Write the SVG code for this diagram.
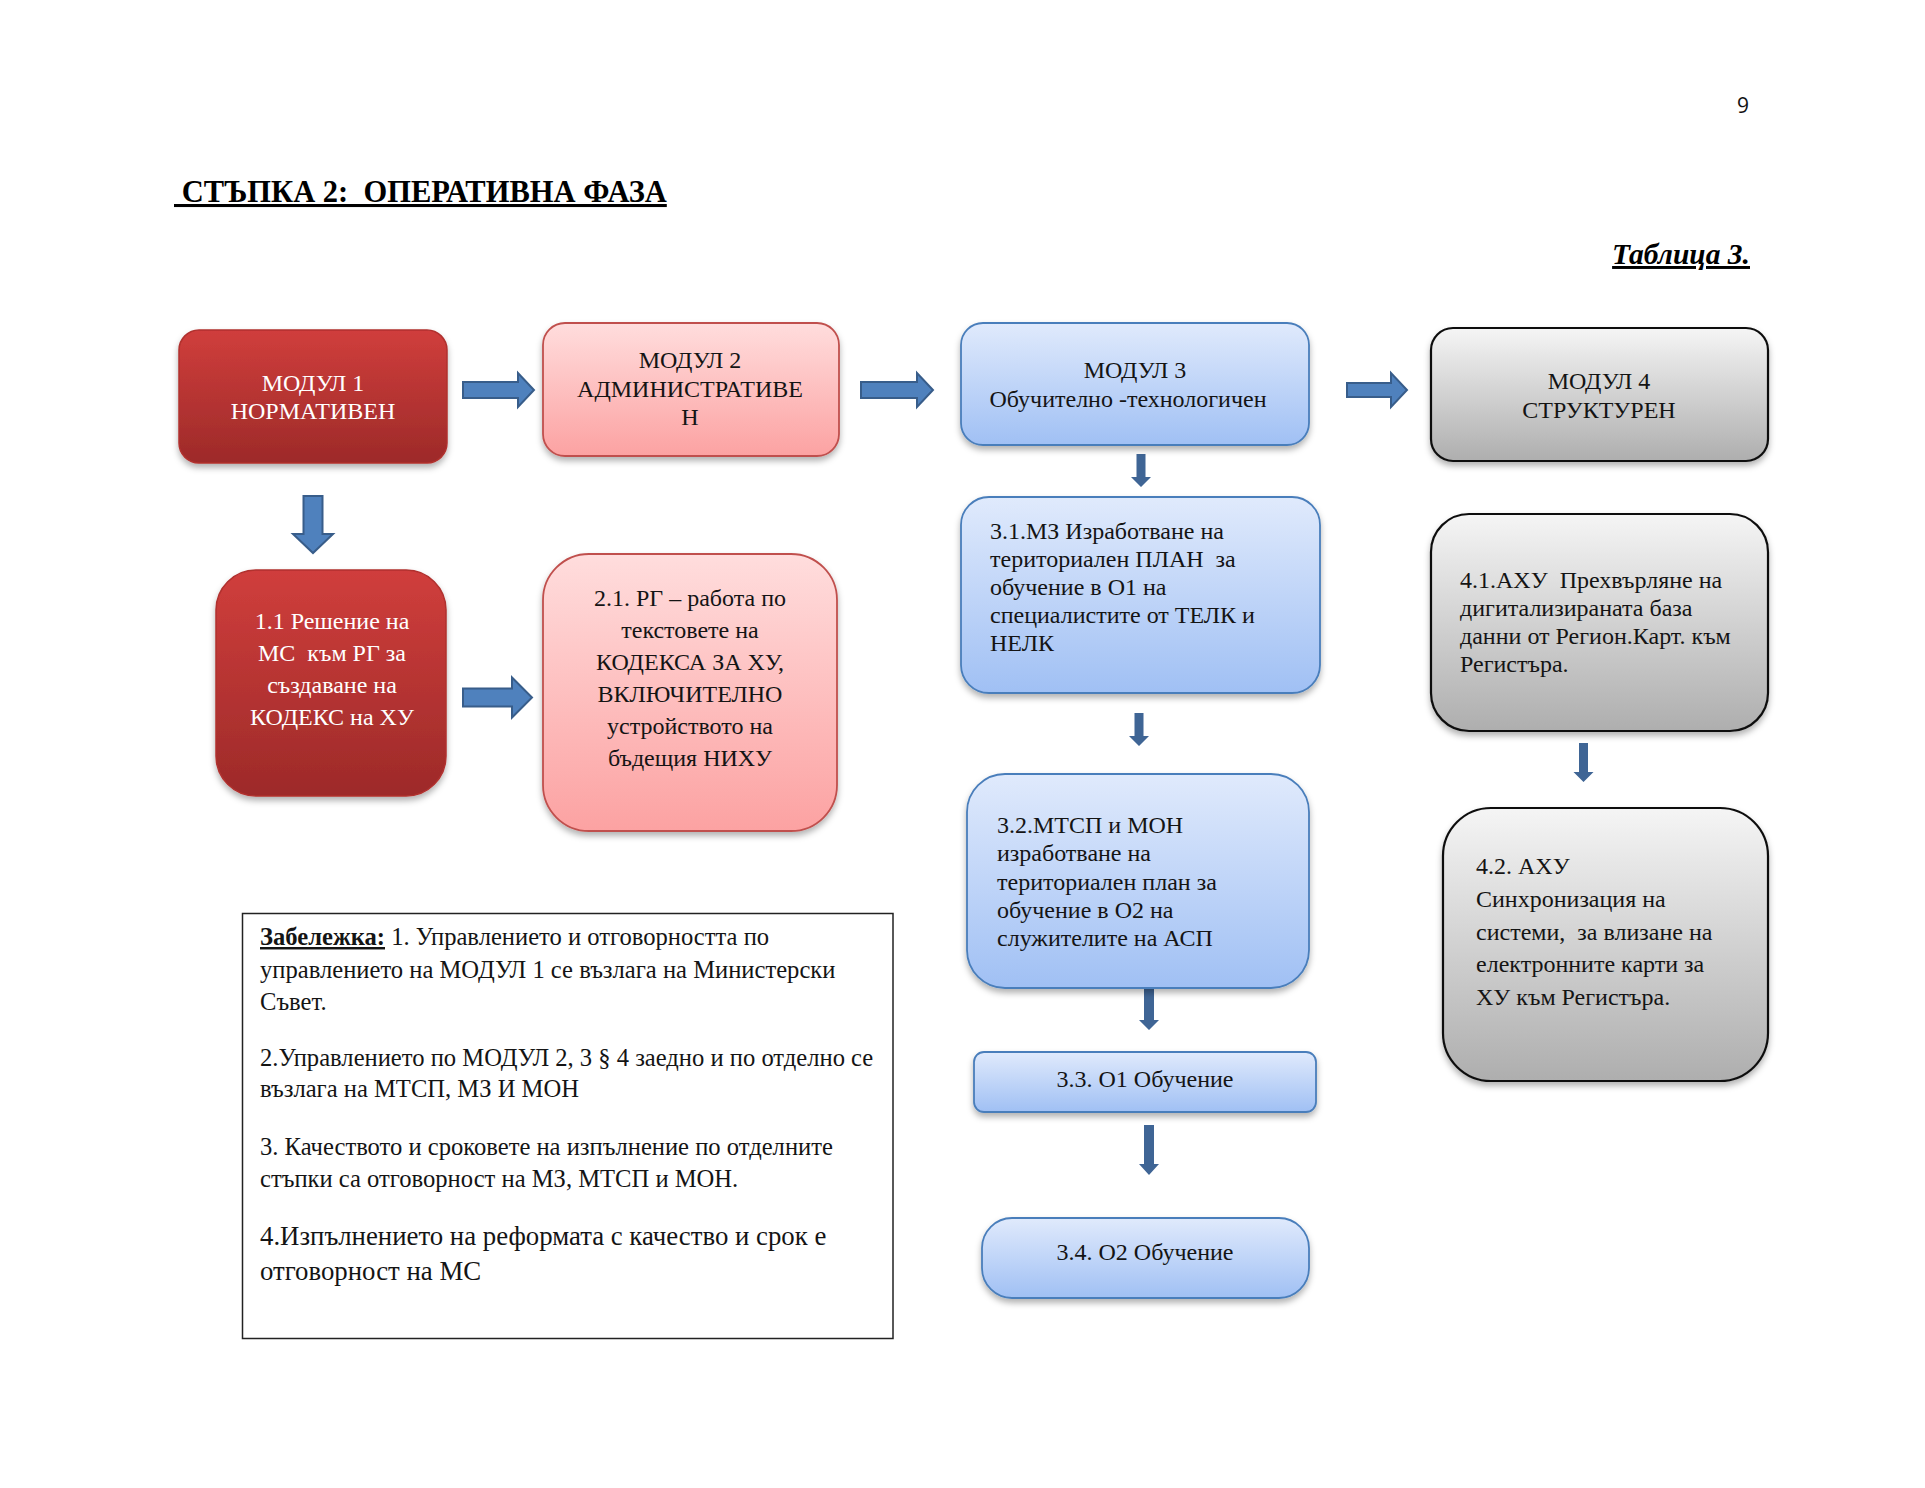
<svg xmlns="http://www.w3.org/2000/svg" width="1925" height="1488" viewBox="0 0 1925 1488">
<defs>
<linearGradient id="gRed" x1="0" y1="0" x2="0" y2="1"><stop offset="0" stop-color="#D03E3C"/><stop offset="1" stop-color="#9D2A29"/></linearGradient>
<linearGradient id="gPink" x1="0" y1="0" x2="0" y2="1"><stop offset="0" stop-color="#FFDDDD"/><stop offset="1" stop-color="#FCA2A2"/></linearGradient>
<linearGradient id="gBlue" x1="0" y1="0" x2="0" y2="1"><stop offset="0" stop-color="#E0EAFC"/><stop offset="1" stop-color="#A0C0F4"/></linearGradient>
<linearGradient id="gGrey" x1="0" y1="0" x2="0" y2="1"><stop offset="0" stop-color="#F5F5F5"/><stop offset="1" stop-color="#AEAEAE"/></linearGradient>
<filter id="sh" x="-10%" y="-10%" width="120%" height="130%"><feDropShadow dx="0" dy="4" stdDeviation="3" flood-color="#000" flood-opacity="0.3"/></filter>
</defs>
<style>
text{white-space:pre}
.t{font-family:"Liberation Serif","Times New Roman",serif;font-size:24px;fill:#141414}
.w{fill:#FFFFFF}
.c{text-anchor:middle}
.nt{font-size:24.6px}
.nb{font-size:26.8px}
.red{fill:url(#gRed);stroke:#B0302E;stroke-width:1.5;filter:url(#sh)}
.pink{fill:url(#gPink);stroke:#C0504D;stroke-width:1.8;filter:url(#sh)}
.blue{fill:url(#gBlue);stroke:#4A7EBB;stroke-width:1.8;filter:url(#sh)}
.grey{fill:url(#gGrey);stroke:#111;stroke-width:2.2;filter:url(#sh)}
.arr{fill:#4F81BD;stroke:#385D8A;stroke-width:2}
.sarr{fill:#3F6595}
</style>
<rect x="0" y="0" width="1925" height="1488" fill="#FFFFFF"/>
<text x="1743" y="113" text-anchor="middle" style="font-family:'Open Sans',Lato,sans-serif;font-size:21px;fill:#111">9</text>
<text x="174" y="202" style="font-family:'Liberation Serif','Times New Roman',serif;font-size:30.5px;font-weight:bold;text-decoration:underline;fill:#000"> СТЪПКА 2:  ОПЕРАТИВНА ФАЗА</text>
<text x="1750" y="264" text-anchor="end" style="font-family:'Liberation Serif','Times New Roman',serif;font-size:29.5px;font-weight:bold;font-style:italic;text-decoration:underline;fill:#000">Таблица 3.</text>

<g id="connectors">
<path class="arr" d="M463,382 L518,382 L518,373 L534,390 L518,407 L518,398 L463,398 Z"/>
<path class="arr" d="M861,382 L917,382 L917,373 L933,390 L917,407 L917,398 L861,398 Z"/>
<path class="arr" d="M1347,383 L1391,383 L1391,373 L1407,390 L1391,407 L1391,397 L1347,397 Z"/>
<path class="arr" d="M463,688.5 L512,688.5 L512,677.5 L532,697.5 L512,717.5 L512,706.5 L463,706.5 Z"/>
<path class="arr" d="M303.5,496 L322.5,496 L322.5,534 L333,534 L313,553 L293,534 L303.5,534 Z"/>
<path class="sarr" d="M1136.5,454 L1145.5,454 L1145.5,477 L1151,477 L1141,487 L1131,477 L1136.5,477 Z"/>
<path class="sarr" d="M1134.5,713 L1143.5,713 L1143.5,736 L1149,736 L1139,746 L1129,736 L1134.5,736 Z"/>
<path class="sarr" d="M1144,987 L1154,987 L1154,1020 L1159,1020 L1149,1030 L1139,1020 L1144,1020 Z"/>
<path class="sarr" d="M1144,1125 L1154,1125 L1154,1164 L1159,1164 L1149,1175 L1139,1164 L1144,1164 Z"/>
<path class="sarr" d="M1579,743 L1588,743 L1588,772 L1593.5,772 L1583.5,782 L1573.5,772 L1579,772 Z"/>
</g>

<g id="m1">
<rect class="red" x="179" y="330" width="268" height="133" rx="20"/>
<text class="t w c" x="313" y="391">МОДУЛ 1</text>
<text class="t w c" x="313" y="419">НОРМАТИВЕН</text>
</g>
<g id="m2">
<rect class="pink" x="543" y="323" width="296" height="133" rx="22"/>
<text class="t c" x="690" y="368">МОДУЛ 2</text>
<text class="t c" x="690" y="397">АДМИНИСТРАТИВЕ</text>
<text class="t c" x="690" y="425">Н</text>
</g>
<g id="m3">
<rect class="blue" x="961" y="323" width="348" height="122" rx="22"/>
<text class="t c" x="1135" y="378">МОДУЛ 3</text>
<text class="t c" x="1128" y="407">Обучително -технологичен</text>
</g>
<g id="m4">
<rect class="grey" x="1431" y="328" width="337" height="133" rx="22"/>
<text class="t c" x="1599" y="389">МОДУЛ 4</text>
<text class="t c" x="1599" y="418">СТРУКТУРЕН</text>
</g>
<g id="n11">
<rect class="red" x="216" y="570" width="230" height="226" rx="40"/>
<text class="t w c" x="332" y="629">1.1 Решение на</text>
<text class="t w c" x="332" y="661">МС  към РГ за</text>
<text class="t w c" x="332" y="693">създаване на</text>
<text class="t w c" x="332" y="725">КОДЕКС на ХУ</text>
</g>
<g id="n21">
<rect class="pink" x="543" y="554" width="294" height="277" rx="46"/>
<text class="t c" x="690" y="606">2.1. РГ – работа по</text>
<text class="t c" x="690" y="638">текстовете на</text>
<text class="t c" x="690" y="670">КОДЕКСА ЗА ХУ,</text>
<text class="t c" x="690" y="702">ВКЛЮЧИТЕЛНО</text>
<text class="t c" x="690" y="734">устройството на</text>
<text class="t c" x="690" y="766">бъдещия НИХУ</text>
</g>
<g id="n31">
<rect class="blue" x="961" y="497" width="359" height="196" rx="28"/>
<text class="t" x="990" y="539">3.1.МЗ Изработване на</text>
<text class="t" x="990" y="567">териториален ПЛАН  за</text>
<text class="t" x="990" y="595">обучение в О1 на</text>
<text class="t" x="990" y="623">специалистите от ТЕЛК и</text>
<text class="t" x="990" y="651">НЕЛК</text>
</g>
<g id="n41">
<rect class="grey" x="1431" y="514" width="337" height="217" rx="38"/>
<text class="t" x="1460" y="588">4.1.АХУ  Прехвърляне на</text>
<text class="t" x="1460" y="616">дигитализираната база</text>
<text class="t" x="1460" y="644">данни от Регион.Карт. към</text>
<text class="t" x="1460" y="672">Регистъра.</text>
</g>
<g id="n32">
<rect class="blue" x="967" y="774" width="342" height="214" rx="38"/>
<text class="t" x="997" y="833">3.2.МТСП и МОН</text>
<text class="t" x="997" y="861">изработване на</text>
<text class="t" x="997" y="890">териториален план за</text>
<text class="t" x="997" y="918">обучение в О2 на</text>
<text class="t" x="997" y="946">служителите на АСП</text>
</g>
<g id="n42">
<rect class="grey" x="1443" y="808" width="325" height="273" rx="48"/>
<text class="t" x="1476" y="874">4.2. АХУ</text>
<text class="t" x="1476" y="907">Синхронизация на</text>
<text class="t" x="1476" y="940">системи,  за влизане на</text>
<text class="t" x="1476" y="972">електронните карти за</text>
<text class="t" x="1476" y="1005">ХУ към Регистъра.</text>
</g>
<g id="n33">
<rect class="blue" x="974" y="1052" width="342" height="60" rx="10"/>
<text class="t c" x="1145" y="1087">3.3. О1 Обучение</text>
</g>
<g id="n34">
<rect class="blue" x="982" y="1218" width="327" height="80" rx="30"/>
<text class="t c" x="1145" y="1260">3.4. О2 Обучение</text>
</g>
<g id="note">
<rect x="242.5" y="913.5" width="650.5" height="425" fill="#FFFFFF" stroke="#222" stroke-width="1.5"/>
<text class="t nt" x="260" y="945"><tspan style="font-weight:bold;text-decoration:underline">Забележка:</tspan> 1. Управлението и отговорността по</text>
<text class="t nt" x="260" y="978">управлението на МОДУЛ 1 се възлага на Министерски</text>
<text class="t nt" x="260" y="1010">Съвет.</text>
<text class="t nt" x="260" y="1066">2.Управлението по МОДУЛ 2, 3 § 4 заедно и по отделно се</text>
<text class="t nt" x="260" y="1097">възлага на МТСП, МЗ И МОН</text>
<text class="t nt" x="260" y="1155">3. Качеството и сроковете на изпълнение по отделните</text>
<text class="t nt" x="260" y="1187">стъпки са отговорност на МЗ, МТСП и МОН.</text>
<text class="t nb" x="260" y="1245">4.Изпълнението на реформата с качество и срок е</text>
<text class="t nb" x="260" y="1280">отговорност на МС</text>
</g>
</svg>
